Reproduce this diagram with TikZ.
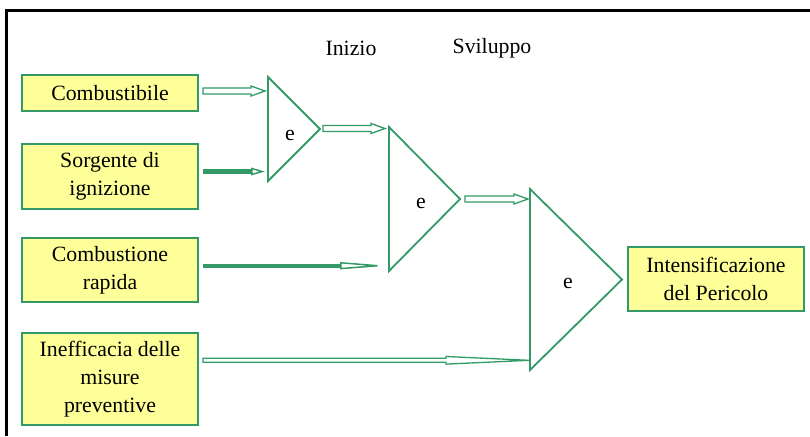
\documentclass[tikz,border=0pt]{standalone}
\usepackage{fontspec}
\setmainfont{Liberation Serif}
\usetikzlibrary{arrows.meta, calc}
\definecolor{gatecol}{RGB}{51,153,102}
\definecolor{boxfill}{RGB}{255,255,153}
\tikzset{
    cause/.style={draw=gatecol, line width=1pt, fill=boxfill, minimum width=88pt,
        align=center, inner sep=0pt, outer sep=2.5pt},
    gate/.style={draw=gatecol, line width=0.9pt, line join=miter},
    % hollow block arrow: shaft half width / head half width / head length
    hollow/.style args={#1/#2/#3}{draw=gatecol, line width=0.65pt, to path={
        ($(\tikztostart |- \tikztotarget)+(0pt,#1)$)
        -- ([xshift=-#3, yshift=#1]\tikztotarget)
        -- ([xshift=-#3, yshift=#2]\tikztotarget)
        -- (\tikztotarget)
        -- ([xshift=-#3, yshift=-#2]\tikztotarget)
        -- ([xshift=-#3, yshift=-#1]\tikztotarget)
        -- ($(\tikztostart |- \tikztotarget)+(0pt,-#1)$) -- cycle}},
    % solid shaft with open head: shaft width / head width / head length
    barrow/.style args={#1/#2/#3}{draw=gatecol, line width=#1,
        -{Triangle[open, width=#2, length=#3, line width=0.75pt]}},
}
\begin{document}
\begin{tikzpicture}[x=0.5pt, y=-0.5pt, font=\rmfamily\fontsize{10.9}{14}\selectfont]
    \useasboundingbox (0,0) rectangle (810,436);

    % frame
    \draw[line width=1.5pt] (6.5,436) -- (6.5,10.5) -- (810,10.5);

    % phases
    \node (inizio) at (351,48) {Inizio};
    \node (sviluppo) at (492,48) {Sviluppo};

    % causes
    \node[cause, minimum height=18pt] (c1) at (110,93) {Combustibile};
    \node[cause, minimum height=32.5pt] (c2) at (110,176.5) {Sorgente di\\ignizione};
    \node[cause, minimum height=32pt] (c3) at (110,270) {Combustione\\rapida};
    \node[cause, minimum height=46pt] (c4) at (110,379) {Inefficacia delle\\misure\\preventive};
    \node[cause, minimum height=32pt] (top) at (716,279) {Intensificazione\\del Pericolo};

    % and-gates
    \draw[gate] (268,77) -- (320,129) -- (268,181) -- cycle;
    \node (e1) at (290,135) {e};
    \draw[gate] (389,127) -- (460,199) -- (389,271) -- cycle;
    \node (e2) at (421,203) {e};
    \draw[gate] (530,189) -- (622,279.5) -- (530,370) -- cycle;
    \node (e3) at (568,283) {e};

    % gate inputs and outputs
    \coordinate (g1a) at (265,91);
    \coordinate (g1b) at (265,171.5);
    \coordinate (g1o) at (323,128.5);
    \coordinate (g2a) at (385,128.5);
    \coordinate (g2b) at (388,265.7);
    \coordinate (g2o) at (465,199);
    \coordinate (g3a) at (528,199);
    \coordinate (g3b) at (529,360.3);

    \draw[hollow=1.5pt/2.5pt/7pt] (c1.east) to (g1a);
    \draw[barrow=2.3pt/3.8pt/7pt] (c2.east |- g1b) -- (g1b);
    \draw[hollow=1.5pt/2.5pt/7pt] (g1o) to (g2a);
    \draw[barrow=2.2pt/3.5pt/24pt] (c3.east |- g2b) -- (g2b);
    \draw[hollow=1.5pt/2.5pt/7pt] (g2o) to (g3a);
    \draw[hollow=1pt/1.9pt/41.5pt] (c4.east) to (g3b);
\end{tikzpicture}
\end{document}
